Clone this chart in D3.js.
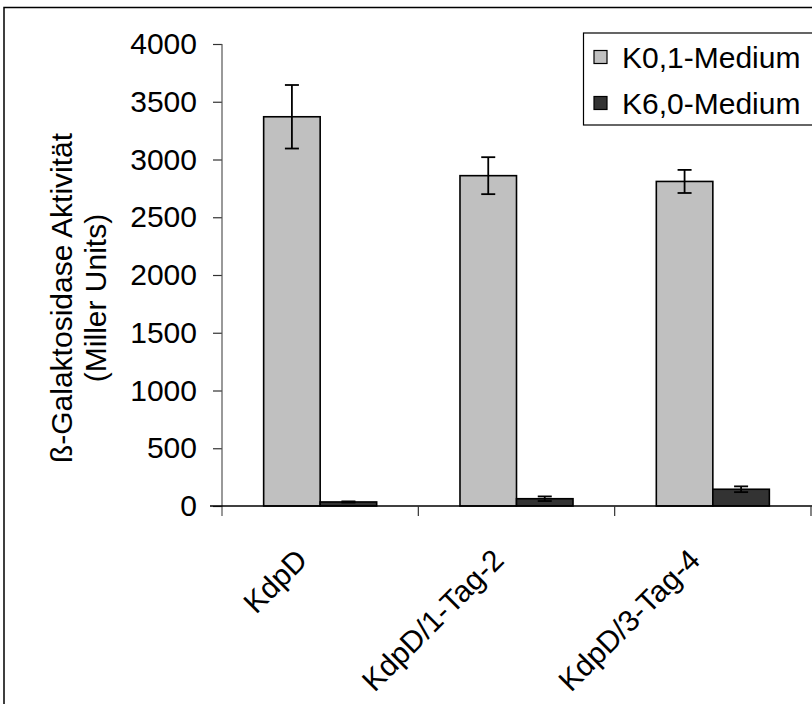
<!DOCTYPE html>
<html>
<head>
<meta charset="utf-8">
<script src="https://cdn.jsdelivr.net/npm/d3@7"></script>
<style>
  html, body { margin: 0; padding: 0; background: #fff; }
  svg { display: block; }
  text { font-family: "Liberation Sans", Arial, sans-serif; fill: #000; }
</style>
</head>
<body>
<svg id="chart" width="812" height="704"></svg>
<script>
// Strains measured
const categories = ["KdpD", "KdpD/1-Tag-2", "KdpD/3-Tag-4"];
// Growth media (legend order)
const seriesNames = ["K0,1-Medium", "K6,0-Medium"];
// β-galactosidase activity in Miller units, with error bars
const lowKValues = [3370, 2860, 2810];
const lowKErrors = [275, 160, 100];
const highKValues = [35, 63, 145];
const highKErrors = [5, 20, 25];
// Value axis ticks
const yTicks = [0, 500, 1000, 1500, 2000, 2500, 3000, 3500, 4000];

const colors = { "K0,1-Medium": "#c0c0c0", "K6,0-Medium": "#333333" };
const FONT = "30px";

const svg = d3.select("#chart");
const W = 812, H = 704;
const plotL = 222, plotR = 811, plotT = 44, plotB = 506;

// Outer frame
svg.append("rect")
  .attr("x", 4).attr("y", 7.5)
  .attr("width", W + 10).attr("height", H + 10)
  .attr("fill", "none").attr("stroke", "#000").attr("stroke-width", 1.5);

const y = d3.scaleLinear().domain([0, 4000]).range([plotB, plotT]);
const x = d3.scaleBand().domain(categories).range([plotL, plotR]).padding(0);
const xs = d3.scaleBand().domain(seriesNames).range([0, x.bandwidth()])
  .paddingInner(0).paddingOuter(0.737);

const rows = categories.map((c, i) => ({
  cat: c,
  vals: [
    { s: seriesNames[0], v: lowKValues[i], e: lowKErrors[i] },
    { s: seriesNames[1], v: highKValues[i], e: highKErrors[i] }
  ]
}));

// Y axis
const yAxis = svg.append("g")
  .attr("transform", `translate(${plotL},0)`)
  .call(d3.axisLeft(y).tickValues(yTicks).tickFormat(d3.format("d"))
    .tickSize(9).tickPadding(16).tickSizeOuter(0));
yAxis.select(".domain").remove();
yAxis.append("line")
  .attr("x1", 0).attr("x2", 0).attr("y1", plotT).attr("y2", plotB + 10)
  .attr("stroke", "#555").attr("stroke-width", 1.2);
yAxis.selectAll(".tick line").attr("stroke", "#333").attr("stroke-width", 1.2);
yAxis.selectAll(".tick text")
  .style("font-size", FONT).style("font-family", "'Liberation Sans', Arial, sans-serif")
  .attr("fill", "#000");

// Bars
const groups = svg.append("g").selectAll("g").data(rows).join("g")
  .attr("transform", d => `translate(${x(d.cat)},0)`);

groups.selectAll("rect").data(d => d.vals).join("rect")
  .attr("x", d => xs(d.s))
  .attr("y", d => y(d.v))
  .attr("width", xs.bandwidth())
  .attr("height", d => y(0) - y(d.v))
  .attr("fill", d => colors[d.s])
  .attr("stroke", "#000").attr("stroke-width", 1.6);

// Error bars
const eb = groups.selectAll("g.err").data(d => d.vals).join("g").attr("class", "err")
  .attr("transform", d => `translate(${xs(d.s) + xs.bandwidth() / 2},0)`);
eb.append("line")
  .attr("x1", 0).attr("x2", 0)
  .attr("y1", d => y(d.v + d.e)).attr("y2", d => y(d.v - d.e))
  .attr("stroke", "#000").attr("stroke-width", 1.8);
eb.selectAll("line.cap").data(d => [d.v + d.e, d.v - d.e]).join("line").attr("class", "cap")
  .attr("x1", -7).attr("x2", 7)
  .attr("y1", v => y(v)).attr("y2", v => y(v))
  .attr("stroke", "#000").attr("stroke-width", 1.8);

// X axis with category ticks at band edges
const xAxis = svg.append("g");
xAxis.append("line")
  .attr("x1", plotL - 12).attr("x2", plotR + 4).attr("y1", plotB).attr("y2", plotB)
  .attr("stroke", "#000").attr("stroke-width", 1.5);
xAxis.selectAll("line.ct").data(categories.slice(1).concat(["end"])).join("line").attr("class", "ct")
  .attr("x1", (d, i) => plotL + (i + 1) * x.step())
  .attr("x2", (d, i) => plotL + (i + 1) * x.step())
  .attr("y1", plotB).attr("y2", plotB + 10)
  .attr("stroke", "#333").attr("stroke-width", 1.2);

// Category labels, rotated
svg.append("g").selectAll("text").data(categories).join("text")
  .attr("transform", d => `translate(${x(d) + x.bandwidth() / 2 - 11},${plotB + 56}) rotate(-45)`)
  .attr("text-anchor", "end")
  .style("font-size", FONT)
  .text(d => d);

// Y axis title
const title = svg.append("text")
  .attr("transform", `translate(72,298) rotate(-90)`)
  .attr("text-anchor", "middle")
  .style("font-size", FONT);
title.append("tspan").attr("x", 0).attr("dy", 0).text("ß-Galaktosidase Aktivität");
title.append("tspan").attr("x", 0).attr("dy", 34).text("(Miller Units)");

// Legend
const lg = svg.append("g");
lg.append("rect")
  .attr("x", 583.5).attr("y", 33).attr("width", 240).attr("height", 92)
  .attr("fill", "#fff").attr("stroke", "#000").attr("stroke-width", 1.2);
const li = lg.selectAll("g.li").data(seriesNames).join("g").attr("class", "li")
  .attr("transform", (d, i) => `translate(594,${57 + i * 46})`);
li.append("rect")
  .attr("x", 0).attr("y", -6.5).attr("width", 13).attr("height", 13)
  .attr("fill", d => colors[d]).attr("stroke", "#000").attr("stroke-width", 1.2);
li.append("text")
  .attr("x", 28).attr("y", 0).attr("dy", "0.36em")
  .style("font-size", FONT)
  .text(d => d);
</script>
</body>
</html>
